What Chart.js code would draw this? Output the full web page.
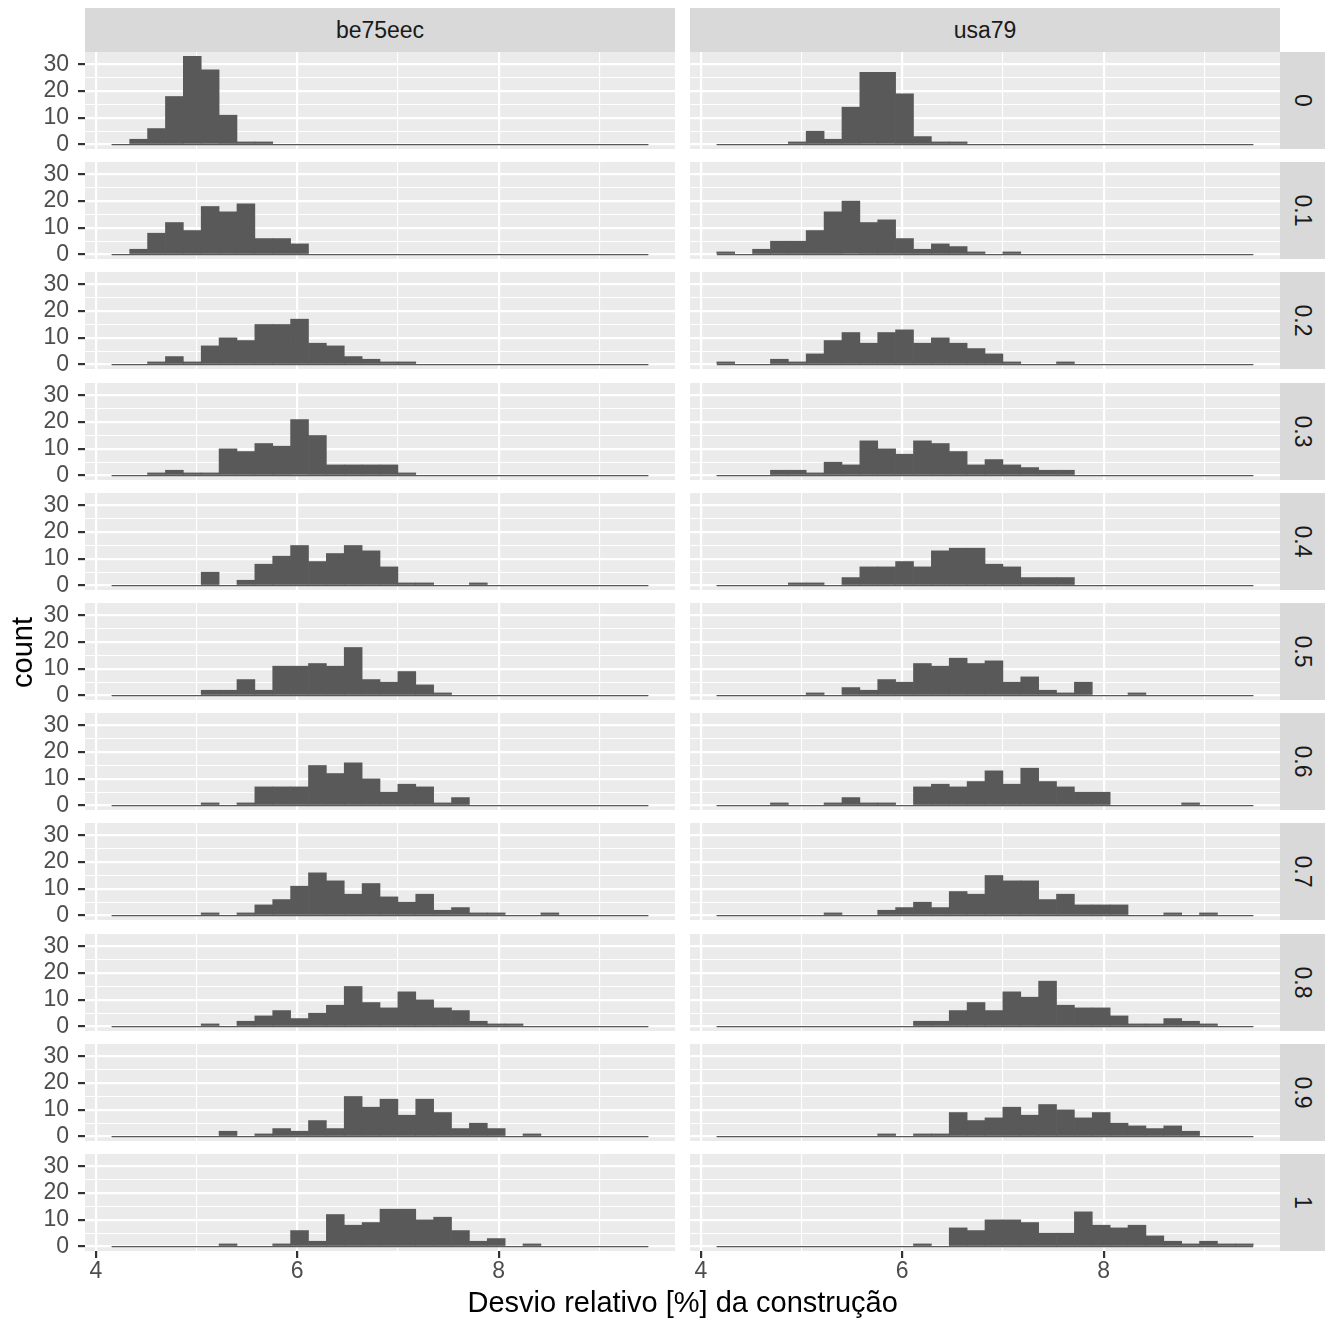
<!DOCTYPE html>
<html>
<head>
<meta charset="utf-8">
<script src="https://cdn.jsdelivr.net/npm/chart.js@4.4.1/dist/chart.umd.min.js"></script>
<style>
  body { margin: 0; background: #fff; }
  #page { position: relative; width: 1336px; height: 1323px; overflow: hidden; font-family: "Liberation Sans", Arial, sans-serif; }
  .panel { position: absolute; }
  .strip { position: absolute; background: #D9D9D9; color: #1A1A1A; font-size: 23px; display: flex; align-items: center; justify-content: center; }
  .strip.side span { transform: rotate(90deg); white-space: nowrap; }
  .title { position: absolute; color: #000; font-size: 29px; white-space: nowrap; }
</style>
</head>
<body>
<div id="page"></div>
<script>
// bin centres of the histogram (30 bins)
const binCenters = [4.2478, 4.4253, 4.6028, 4.7803, 4.9578, 5.1353, 5.3128, 5.4903, 5.6678, 5.8453,
                    6.0228, 6.2003, 6.3778, 6.5553, 6.7328, 6.9103, 7.0878, 7.2653, 7.4428, 7.6203,
                    7.7978, 7.9753, 8.1528, 8.3303, 8.5078, 8.6853, 8.8628, 9.0403, 9.2178, 9.3953];

const columns = ['be75eec', 'usa79'];
const levels = ['0', '0.1', '0.2', '0.3', '0.4', '0.5', '0.6', '0.7', '0.8', '0.9', '1'];

const xTicks = [4, 5, 6, 7, 8, 9];
const xLabels = [4, 6, 8];
const yTicks = [0, 5, 10, 15, 20, 25, 30];
const yLabels = [0, 10, 20, 30];

// counts, be75eec
const be75eec_00 = [0,2,6,18,33,28,11,1,1,0, 0,0,0,0,0,0,0,0,0,0, 0,0,0,0,0,0,0,0,0,0];
const be75eec_01 = [0,2,8,12,9,18,16,19,6,6, 4,0,0,0,0,0,0,0,0,0, 0,0,0,0,0,0,0,0,0,0];
const be75eec_02 = [0,0,1,3,1,7,10,9,15,15, 17,8,7,3,2,1,1,0,0,0, 0,0,0,0,0,0,0,0,0,0];
const be75eec_03 = [0,0,1,2,1,1,10,9,12,11, 21,15,4,4,4,4,1,0,0,0, 0,0,0,0,0,0,0,0,0,0];
const be75eec_04 = [0,0,0,0,0,5,0,2,8,11, 15,9,12,15,13,7,1,1,0,0, 1,0,0,0,0,0,0,0,0,0];
const be75eec_05 = [0,0,0,0,0,2,2,6,2,11, 11,12,11,18,6,5,9,4,1,0, 0,0,0,0,0,0,0,0,0,0];
const be75eec_06 = [0,0,0,0,0,1,0,1,7,7, 7,15,12,16,10,5,8,7,1,3, 0,0,0,0,0,0,0,0,0,0];
const be75eec_07 = [0,0,0,0,0,1,0,1,4,6, 11,16,13,8,12,7,5,8,2,3, 1,1,0,0,1,0,0,0,0,0];
const be75eec_08 = [0,0,0,0,0,1,0,2,4,6, 3,5,8,15,9,7,13,10,7,6, 2,1,1,0,0,0,0,0,0,0];
const be75eec_09 = [0,0,0,0,0,0,2,0,1,3, 2,6,3,15,11,14,8,14,9,3, 5,3,0,1,0,0,0,0,0,0];
const be75eec_10 = [0,0,0,0,0,0,1,0,0,1, 6,2,12,8,9,14,14,10,11,6, 2,3,0,1,0,0,0,0,0,0];

// counts, usa79
const usa79_00 = [0,0,0,0,1,5,2,14,27,27, 19,3,1,1,0,0,0,0,0,0, 0,0,0,0,0,0,0,0,0,0];
const usa79_01 = [1,0,2,5,5,9,16,20,12,13, 6,2,4,3,1,0,1,0,0,0, 0,0,0,0,0,0,0,0,0,0];
const usa79_02 = [1,0,0,2,1,4,9,12,8,12, 13,8,10,8,6,4,1,0,0,1, 0,0,0,0,0,0,0,0,0,0];
const usa79_03 = [0,0,0,2,2,1,5,4,13,10, 8,13,12,9,4,6,4,3,2,2, 0,0,0,0,0,0,0,0,0,0];
const usa79_04 = [0,0,0,0,1,1,0,3,7,7, 9,7,13,14,14,8,7,3,3,3, 0,0,0,0,0,0,0,0,0,0];
const usa79_05 = [0,0,0,0,0,1,0,3,2,6, 5,12,11,14,12,13,5,7,2,1, 5,0,0,1,0,0,0,0,0,0];
const usa79_06 = [0,0,0,1,0,0,1,3,1,1, 0,7,8,7,9,13,8,14,9,7, 5,5,0,0,0,0,1,0,0,0];
const usa79_07 = [0,0,0,0,0,0,1,0,0,2, 3,5,3,9,8,15,13,13,6,8, 4,4,4,0,0,1,0,1,0,0];
const usa79_08 = [0,0,0,0,0,0,0,0,0,0, 0,2,2,6,9,6,13,11,17,8, 7,7,4,1,1,3,2,1,0,0];
const usa79_09 = [0,0,0,0,0,0,0,0,0,1, 0,1,1,9,6,7,11,8,12,10, 7,9,5,4,3,4,2,0,0,0];
const usa79_10 = [0,0,0,0,0,0,0,0,0,0, 0,1,0,7,6,10,10,9,5,5, 13,8,7,8,4,2,1,2,1,1];

const panelCounts = [
  [be75eec_00, be75eec_01, be75eec_02, be75eec_03, be75eec_04, be75eec_05, be75eec_06, be75eec_07, be75eec_08, be75eec_09, be75eec_10],
  [usa79_00, usa79_01, usa79_02, usa79_03, usa79_04, usa79_05, usa79_06, usa79_07, usa79_08, usa79_09, usa79_10]
];

// histogram extent and ggplot-like 5% expansion
const halfBin = (binCenters[1] - binCenters[0]) / 2;
const barStart = binCenters[0] - halfBin;
const barEnd = binCenters[binCenters.length - 1] + halfBin;
const xPad = (barEnd - barStart) * 0.05;
const yTop = Math.max(...panelCounts.flat(2));
const yPad = yTop * 0.05;

// layout
const PANEL_X = [85, 690];
const PANEL_W = 590;
const PANEL_H = 97;
const TOP0 = 52;
const ROW_STEP = 110.2;
const Y_AXIS_W = 85;
const X_AXIS_H = 50;
const EDGE = 14; // room above/below a panel so edge tick labels are not cut

Chart.defaults.font.family = '"Liberation Sans", Arial, sans-serif';

const panelBg = {
  id: 'panelBg',
  beforeDraw(chart) {
    const { ctx, chartArea: a } = chart;
    ctx.save();
    ctx.fillStyle = '#EBEBEB';
    ctx.fillRect(a.left, a.top, a.right - a.left, a.bottom - a.top);
    ctx.restore();
  }
};

function noPadding(scale) {
  scale.paddingTop = 0;
  scale.paddingBottom = 0;
  scale.paddingLeft = 0;
  scale.paddingRight = 0;
}

const page = document.getElementById('page');

function makePanel(col, row) {
  const counts = panelCounts[col][row];
  const lastRow = row === levels.length - 1;
  const axisW = col === 0 ? Y_AXIS_W : 0;
  const axisH = lastRow ? X_AXIS_H : 0;
  const bottomRoom = lastRow ? 0 : EDGE;
  const top = Math.round(TOP0 + row * ROW_STEP);

  const holder = document.createElement('div');
  holder.className = 'panel';
  holder.style.left = (PANEL_X[col] - axisW) + 'px';
  holder.style.top = (top - EDGE) + 'px';
  const canvas = document.createElement('canvas');
  canvas.width = PANEL_W + axisW;
  canvas.height = EDGE + PANEL_H + axisH + bottomRoom;
  canvas.style.width = canvas.width + 'px';
  canvas.style.height = canvas.height + 'px';
  holder.appendChild(canvas);
  page.appendChild(holder);

  new Chart(canvas, {
    type: 'bar',
    data: {
      datasets: [
        {
          type: 'bar',
          data: binCenters.map((x, i) => ({ x: x, y: counts[i] })),
          backgroundColor: '#595959',
          borderWidth: 0,
          barPercentage: 1,
          categoryPercentage: 1,
          order: 2
        },
        {
          type: 'line',
          data: [{ x: barStart, y: 0 }, { x: barEnd, y: 0 }],
          borderColor: '#595959',
          borderWidth: 1.3,
          pointRadius: 0,
          order: 1
        }
      ]
    },
    options: {
      responsive: false,
      animation: false,
      devicePixelRatio: 1,
      layout: { padding: { top: EDGE, bottom: bottomRoom, left: 0, right: 0 } },
      plugins: { legend: { display: false }, tooltip: { enabled: false } },
      scales: {
        x: {
          type: 'linear',
          offset: false,
          min: barStart - xPad,
          max: barEnd + xPad,
          afterBuildTicks: s => { s.ticks = xTicks.map(v => ({ value: v })); },
          afterFit: s => { s.height = axisH; noPadding(s); },
          border: { display: false },
          grid: {
            offset: false,
            color: '#FFFFFF',
            lineWidth: c => (c.tick && c.tick.value % 2 === 0) ? 2.2 : 1.1,
            drawTicks: lastRow,
            tickLength: 7,
            tickWidth: 2.2,
            tickColor: c => (c.tick && xLabels.includes(c.tick.value)) ? '#333333' : 'rgba(0,0,0,0)'
          },
          ticks: {
            display: lastRow,
            autoSkip: false,
            maxRotation: 0,
            padding: 0,
            color: '#4D4D4D',
            font: { size: 23 },
            callback: v => xLabels.includes(v) ? String(v) : ''
          }
        },
        y: {
          type: 'linear',
          min: -yPad,
          max: yTop + yPad,
          afterBuildTicks: s => { s.ticks = yTicks.map(v => ({ value: v })); },
          afterFit: s => { s.width = axisW; noPadding(s); },
          border: { display: false },
          grid: {
            color: '#FFFFFF',
            lineWidth: c => (c.tick && c.tick.value % 10 === 0) ? 2.2 : 1.1,
            drawTicks: col === 0,
            tickLength: 7,
            tickWidth: 2.2,
            tickColor: c => (c.tick && yLabels.includes(c.tick.value)) ? '#333333' : 'rgba(0,0,0,0)'
          },
          ticks: {
            display: col === 0,
            autoSkip: false,
            padding: 9,
            color: '#4D4D4D',
            font: { size: 23 },
            callback: v => yLabels.includes(v) ? String(v) : ''
          }
        }
      }
    },
    plugins: [panelBg]
  });
}

// strips
columns.forEach((name, col) => {
  const s = document.createElement('div');
  s.className = 'strip';
  s.style.left = PANEL_X[col] + 'px';
  s.style.top = '8px';
  s.style.width = PANEL_W + 'px';
  s.style.height = (TOP0 - 8) + 'px';
  s.textContent = name;
  page.appendChild(s);
});

levels.forEach((lev, row) => {
  const s = document.createElement('div');
  s.className = 'strip side';
  s.style.left = (PANEL_X[1] + PANEL_W) + 'px';
  s.style.top = Math.round(TOP0 + row * ROW_STEP) + 'px';
  s.style.width = '45px';
  s.style.height = PANEL_H + 'px';
  const t = document.createElement('span');
  t.textContent = lev;
  s.appendChild(t);
  page.appendChild(s);
});

for (let col = 0; col < columns.length; col++) {
  for (let row = 0; row < levels.length; row++) {
    makePanel(col, row);
  }
}

// axis titles
const xTitle = document.createElement('div');
xTitle.className = 'title';
xTitle.textContent = 'Desvio relativo [%] da construção';
page.appendChild(xTitle);
xTitle.style.left = ((PANEL_X[0] + PANEL_X[1] + PANEL_W) / 2 - xTitle.offsetWidth / 2) + 'px';
xTitle.style.top = (1302 - xTitle.offsetHeight / 2) + 'px';

const yTitle = document.createElement('div');
yTitle.className = 'title';
yTitle.textContent = 'count';
page.appendChild(yTitle);
yTitle.style.left = (22 - yTitle.offsetWidth / 2) + 'px';
yTitle.style.top = (652 - yTitle.offsetHeight / 2) + 'px';
yTitle.style.transform = 'rotate(-90deg)';
</script>
</body>
</html>
